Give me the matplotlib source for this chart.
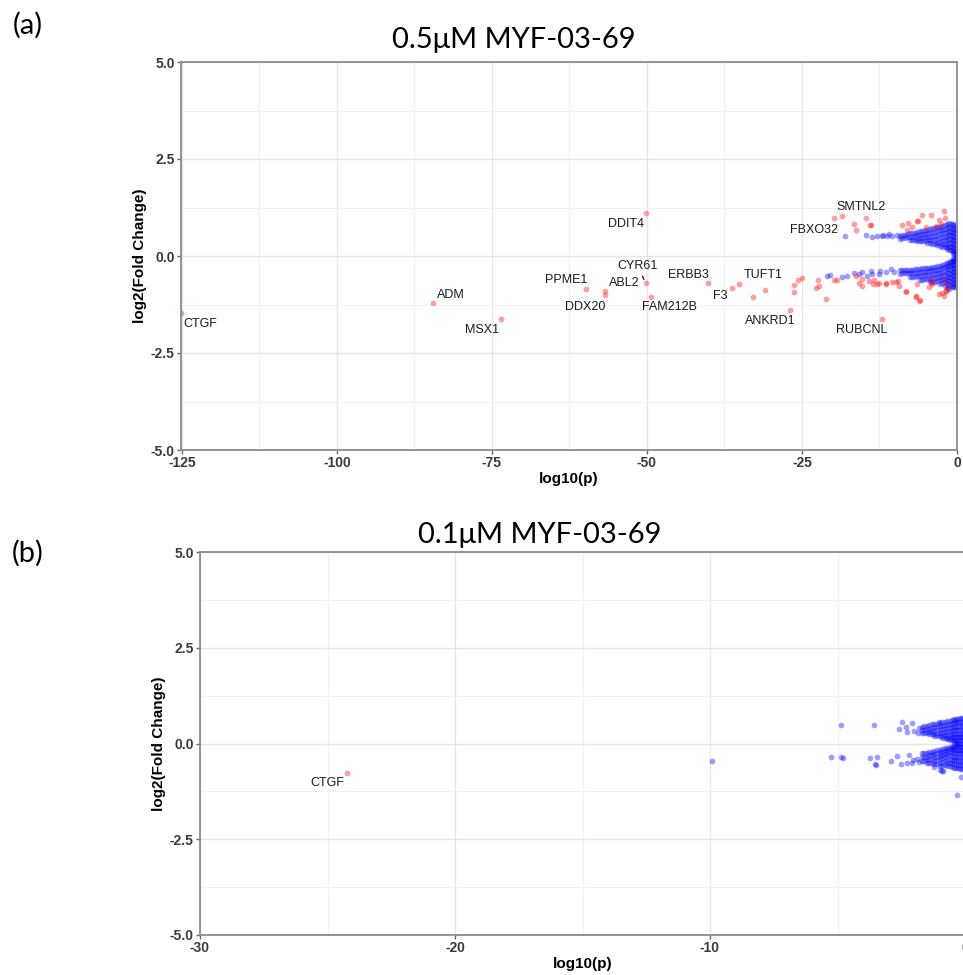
import matplotlib
matplotlib.use("Agg")
import matplotlib.pyplot as plt
from matplotlib.ticker import MultipleLocator

plt.rcParams["axes.unicode_minus"] = False

# ---- panel (a): 0.5uM MYF-03-69 ------------------------------------------
# significant hits (red), labelled genes
genes_a = ["CTGF", "ADM", "MSX1", "PPME1", "DDX20", "ABL2", "DDIT4", "CYR61",
           "FAM212B", "ERBB3", "F3", "TUFT1", "ANKRD1", "RUBCNL", "SMTNL2", "FBXO32"]
genes_a_p = [-125.2, -84.5, -73.5, -59.8, -56.8, -56.7, -50.2, -50.2,
             -49.4, -40.2, -36.3, -35.2, -26.9, -12.1, -18.5, -19.8]
genes_a_fc = [-1.47, -1.21, -1.62, -0.85, -1.0, -0.9, 1.1, -0.7,
              -1.06, -0.7, -0.83, -0.72, -1.39, -1.62, 1.03, 0.98]

# other significant hits (red, unlabelled)
red_a_p = [-32.9, -31.0, -26.3, -26.3, -25.6, -25.0, -22.7, -22.4, -22.3, -21.1,
           -19.8, -19.3, -16.6, -16.3, -14.7, -14.0, -13.9, -8.9, -8.1, -6.3,
           -5.6, -4.2, -2.9, -3.4, -2.1, -1.9, -7.3, -5.0, -2.6, -7.9, -6.5,
           -15.3, -14.2, -13.4, -12.9, -11.5, -10.5, -9.5, -8.2, -6.5, -6.6,
           -6.0, -4.2, -4.0, -2.4, -1.8, -1.5, -2.1, -4.5, -16.3, -15.8, -15.3,
           -13.5, -12.6, -11.5, -9.8, -9.4, -8.2, -6.6, -6.1, -2.9, -2.1, -1.8]
red_a_fc = [-1.06, -0.88, -0.75, -0.93, -0.62, -0.57, -0.83, -0.62, -0.77, -1.11,
            -0.62, -0.62, 0.82, 0.67, 0.98, 0.80, 0.80, 0.80, 0.67, 0.90,
            1.06, 1.06, 0.93, 0.77, 1.16, 0.98, 0.75, 0.75, 0.82, 0.85, 0.90,
            -0.59, -0.64, -0.62, -0.72, -0.72, -0.67, -0.64, -0.90, -0.72, -1.06,
            -1.13, -0.64, -0.72, -0.95, -0.90, -0.80, -0.62, -0.80, -0.52, -0.70, -0.77,
            -0.72, -0.70, -0.70, -0.67, -0.77, -0.93, -1.03, -1.16, -0.98, -1.03, -0.90]

# non-significant genes (blue), sparse tail
blue_a_p = [-18.1, -14.7, -13.7, -12.1, -11.3, -10.5, -9.7, -12.9, -11.9, -10.9,
            -21.0, -20.5, -18.5, -17.7, -16.6, -15.3, -14.5, -13.9, -12.6, -11.5,
            -10.6, -10.2, -15.8, -13.7, -12.4]
blue_a_fc = [0.52, 0.54, 0.49, 0.52, 0.52, 0.52, 0.54, 0.52, 0.55, 0.56,
             -0.52, -0.49, -0.54, -0.52, -0.44, -0.41, -0.52, -0.39, -0.46, -0.41,
             -0.34, -0.40, -0.46, -0.46, -0.38]

# non-significant genes (blue), dense cloud near p = 1, by column of log10(p)
dense_a_p = [-0.2, -0.7, -1.3, -2.0, -2.8, -3.6, -4.4, -5.2, -6.0, -6.8, -7.6, -8.4, -9.2,
             -0.45, -1.0, -1.65, -2.4, -3.2, -4.0, -4.8, -5.6, -6.4, -7.2, -8.0, -8.8]
dense_a_fc = [
    [0.78, 0.68, 0.58, 0.48, 0.38, 0.28, 0.18, 0.10, 0.04, 0.0, -0.04, -0.10, -0.18,
     -0.28, -0.38, -0.48, -0.58, -0.68, -0.78],
    [0.82, 0.72, 0.62, 0.52, 0.42, 0.32, 0.22, 0.14, 0.07, -0.07, -0.14, -0.22, -0.32,
     -0.42, -0.52, -0.62, -0.72, -0.80],
    [0.84, 0.74, 0.64, 0.54, 0.44, 0.34, 0.24, 0.16, -0.16, -0.24, -0.34, -0.44, -0.54,
     -0.64, -0.74, -0.84],
    [0.80, 0.70, 0.60, 0.50, 0.40, 0.30, 0.22, -0.20, -0.28, -0.38, -0.48, -0.58, -0.68, -0.78],
    [0.76, 0.66, 0.56, 0.46, 0.36, 0.27, -0.25, -0.33, -0.43, -0.53, -0.63, -0.73],
    [0.72, 0.62, 0.52, 0.42, 0.32, -0.28, -0.36, -0.46, -0.56, -0.66],
    [0.70, 0.60, 0.50, 0.41, 0.33, -0.30, -0.38, -0.48, -0.58, -0.68],
    [0.66, 0.57, 0.48, 0.39, -0.31, -0.40, -0.50, -0.60],
    [0.64, 0.55, 0.46, 0.38, -0.33, -0.42, -0.52, -0.62],
    [0.60, 0.51, 0.42, -0.34, -0.43, -0.53],
    [0.58, 0.49, 0.41, -0.35, -0.44, -0.54],
    [0.55, 0.47, -0.36, -0.45],
    [0.52, 0.45, -0.37, -0.46],
    [0.80, 0.70, 0.60, 0.50, 0.40, 0.30, 0.20, 0.12, 0.05, -0.05, -0.12, -0.20, -0.30,
     -0.40, -0.50, -0.60, -0.70, -0.80],
    [0.83, 0.73, 0.63, 0.53, 0.43, 0.33, 0.23, 0.15, -0.12, -0.19, -0.27, -0.37, -0.47,
     -0.57, -0.67, -0.77],
    [0.82, 0.72, 0.62, 0.52, 0.42, 0.32, 0.24, 0.19, -0.18, -0.25, -0.33, -0.43, -0.53,
     -0.63, -0.73, -0.82],
    [0.78, 0.68, 0.58, 0.48, 0.38, 0.30, 0.24, -0.23, -0.30, -0.40, -0.50, -0.60, -0.70],
    [0.74, 0.64, 0.54, 0.44, 0.34, 0.28, -0.27, -0.35, -0.45, -0.55, -0.65],
    [0.71, 0.61, 0.51, 0.41, 0.32, -0.29, -0.37, -0.47, -0.57, -0.67],
    [0.68, 0.58, 0.49, 0.40, 0.33, -0.31, -0.39, -0.49, -0.59],
    [0.65, 0.56, 0.47, 0.38, -0.32, -0.41, -0.51, -0.61],
    [0.62, 0.53, 0.44, 0.38, -0.34, -0.43, -0.52],
    [0.59, 0.50, 0.42, -0.35, -0.44, -0.53],
    [0.56, 0.48, -0.36, -0.45],
    [0.53, 0.46, -0.37, -0.45],
]

# ---- panel (b): 0.1uM MYF-03-69 ------------------------------------------
genes_b = ["CTGF"]
genes_b_p = [-24.24]
genes_b_fc = [-0.78]

blue_b_p = [-9.92, -4.86, -5.25, -4.86, -4.80, -3.57, -3.73, -3.53, -3.50, -3.45,
            -2.90, -2.67, -2.47, -2.27, -2.08, -2.51, -2.27, -2.08, -2.04, -1.84,
            -1.80, -1.80, -0.86, -0.31, -0.15, -1.02, -0.40, -2.6, -2.3, -2.0,
            -0.90, -1.2, -1.0, -1.9, -2.2]
blue_b_fc = [-0.46, 0.48, -0.35, -0.35, -0.37, 0.48, -0.38, -0.54, -0.56, -0.35,
             -0.46, -0.33, 0.56, 0.30, 0.54, -0.54, -0.50, -0.50, -0.44, 0.27,
             0.40, -0.48, -0.72, -1.34, -0.88, 0.56, 0.60, 0.38, 0.42, 0.33,
             -0.72, -0.62, -0.68, -0.40, -0.30]

dense_b_p = [-1.7, -1.5, -1.3, -1.1, -0.9, -0.7, -0.5, -0.35, -0.2, -0.05,
             -1.6, -1.4, -1.2, -1.0, -0.8, -0.6, -0.42, -0.28, -0.12]
dense_b_fc = [
    [0.44, 0.35, 0.27, -0.26, -0.35, -0.45],
    [0.46, 0.37, 0.28, -0.25, -0.34, -0.44, -0.52],
    [0.50, 0.41, 0.32, 0.24, -0.22, -0.31, -0.40, -0.50],
    [0.52, 0.43, 0.34, 0.26, 0.19, -0.18, -0.26, -0.35, -0.44, -0.54],
    [0.55, 0.46, 0.37, 0.28, 0.20, 0.15, -0.15, -0.22, -0.30, -0.39, -0.48, -0.58],
    [0.58, 0.49, 0.40, 0.31, 0.22, 0.15, 0.11, -0.11, -0.16, -0.24, -0.33, -0.42, -0.51, -0.60],
    [0.62, 0.52, 0.42, 0.33, 0.24, 0.16, 0.09, -0.08, -0.15, -0.23, -0.32, -0.42, -0.52, -0.62],
    [0.64, 0.54, 0.44, 0.34, 0.25, 0.16, 0.08, 0.04, -0.04, -0.08, -0.16, -0.25, -0.34,
     -0.44, -0.54, -0.64],
    [0.66, 0.56, 0.46, 0.36, 0.26, 0.17, 0.08, 0.0, -0.08, -0.17, -0.26, -0.36, -0.46,
     -0.56, -0.66],
    [0.66, 0.56, 0.46, 0.36, 0.26, 0.17, 0.08, 0.0, -0.08, -0.17, -0.26, -0.36, -0.46,
     -0.56, -0.66],
    [0.45, 0.36, 0.28, -0.26, -0.35, -0.46],
    [0.48, 0.39, 0.30, 0.24, -0.23, -0.30, -0.40, -0.50],
    [0.51, 0.42, 0.33, 0.25, 0.20, -0.19, -0.27, -0.36, -0.46, -0.54],
    [0.54, 0.45, 0.36, 0.27, 0.19, -0.17, -0.24, -0.32, -0.41, -0.50, -0.58],
    [0.57, 0.48, 0.39, 0.30, 0.21, 0.14, -0.13, -0.19, -0.27, -0.36, -0.45, -0.55],
    [0.60, 0.50, 0.41, 0.32, 0.23, 0.15, 0.10, -0.09, -0.14, -0.22, -0.31, -0.40, -0.50, -0.60],
    [0.63, 0.53, 0.43, 0.34, 0.25, 0.17, 0.10, 0.05, -0.05, -0.10, -0.17, -0.25, -0.34,
     -0.44, -0.54, -0.63],
    [0.65, 0.55, 0.45, 0.35, 0.25, 0.16, 0.08, 0.02, -0.02, -0.08, -0.16, -0.25, -0.35,
     -0.45, -0.55, -0.65],
    [0.66, 0.56, 0.46, 0.36, 0.26, 0.17, 0.08, 0.0, -0.08, -0.17, -0.26, -0.36, -0.46,
     -0.56, -0.66],
]

# label offsets in pixels (repel-style placement)
offs_a = {"CTGF": (20, -11), "ADM": (18, 8), "MSX1": (-19, -11), "PPME1": (-20, 9),
          "DDX20": (-20, -12), "ABL2": (19, 8), "DDIT4": (-20, -11), "CYR61": (-8, 17),
          "FAM212B": (19, -10), "ERBB3": (-19, 8), "F3": (-12, -8), "TUFT1": (24, 9),
          "ANKRD1": (-20, -11), "RUBCNL": (-20, -11), "SMTNL2": (19, 9), "FBXO32": (-20, -12)}
offs_b = {"CTGF": (-20, -10)}


def flatten(cols_x, cols_y):
    xs, ys = [], []
    for x, col in zip(cols_x, cols_y):
        xs += [x] * len(col)
        ys += col
    return xs, ys


BLUE = (0, 0, 1, 0.38)
RED = (1, 0, 0, 0.38)
MS = 17
LBL = "Liberation Sans"


def style_axes(ax, xlim, xmajor):
    ax.set_xlim(*xlim)
    ax.set_ylim(-5, 5)
    ax.xaxis.set_major_locator(MultipleLocator(xmajor))
    ax.xaxis.set_minor_locator(MultipleLocator(xmajor / 2))
    ax.yaxis.set_major_locator(MultipleLocator(2.5))
    ax.yaxis.set_minor_locator(MultipleLocator(1.25))
    ax.yaxis.set_major_formatter(matplotlib.ticker.FormatStrFormatter("%.1f"))
    ax.grid(which="major", color="#e6e6e6", linewidth=1.0)
    ax.grid(which="minor", color="#f2f2f2", linewidth=0.8)
    ax.set_axisbelow(True)
    for s in ax.spines.values():
        s.set_color("#8c8c8c")
        s.set_linewidth(1.3)
    ax.tick_params(which="major", length=3, width=1, color="#666666", pad=1.5,
                   labelcolor="#3a3a3a", labelsize=10)
    ax.tick_params(which="minor", length=0)
    for t in ax.get_xticklabels() + ax.get_yticklabels():
        t.set_fontweight("bold")
        t.set_family(LBL)
    ax.set_xlabel("log10(p)", fontsize=11, fontweight="bold", family=LBL, labelpad=1)
    ax.set_ylabel("log2(Fold Change)", fontsize=11, fontweight="bold", family=LBL, labelpad=3)


fig = plt.figure(figsize=(9.63, 9.75), dpi=100)

# panel (a)
ax1 = fig.add_axes([181 / 963, 1 - 450 / 975, 776 / 963, 388 / 975])
dx, dy = flatten(dense_a_p, dense_a_fc)
ax1.scatter(dx, dy, s=MS, color=BLUE, linewidths=0)
ax1.scatter(blue_a_p, blue_a_fc, s=MS, color=BLUE, linewidths=0)
ax1.scatter(red_a_p, red_a_fc, s=MS, color=RED, linewidths=0)
ax1.scatter(genes_a_p, genes_a_fc, s=MS, color=RED, linewidths=0)
for g, x, y in zip(genes_a, genes_a_p, genes_a_fc):
    arrow = dict(arrowstyle="-", color="#222222", lw=1, shrinkA=1, shrinkB=3) if g == "CYR61" else None
    ax1.annotate(g, (x, y), xytext=offs_a[g], textcoords="offset pixels",
                 ha="center", va="center", fontsize=9, family=LBL, color="#1a1a1a",
                 arrowprops=arrow)
style_axes(ax1, (-125.15, 0.0), 25)

# panel (b)
ax2 = fig.add_axes([200 / 963, 1 - 935 / 975, 765 / 963, 383 / 975])
dx, dy = flatten(dense_b_p, dense_b_fc)
ax2.scatter(dx, dy, s=MS, color=BLUE, linewidths=0)
ax2.scatter(blue_b_p, blue_b_fc, s=MS, color=BLUE, linewidths=0)
ax2.scatter(genes_b_p, genes_b_fc, s=MS, color=RED, linewidths=0)
for g, x, y in zip(genes_b, genes_b_p, genes_b_fc):
    ax2.annotate(g, (x, y), xytext=offs_b[g], textcoords="offset pixels",
                 ha="center", va="center", fontsize=9, family=LBL, color="#1a1a1a")
style_axes(ax2, (-30, 0), 10)

# titles and panel tags
TF = "Lato"
fig.text(514 / 963, 1 - 40 / 975, "0.5μM MYF-03-69", ha="center", va="center", fontsize=21, family=TF)
fig.text(540 / 963, 1 - 535 / 975, "0.1μM MYF-03-69", ha="center", va="center", fontsize=21, family=TF)
fig.text(28 / 963, 1 - 25 / 975, "(a)", ha="center", va="center", fontsize=21, family=TF)
fig.text(28 / 963, 1 - 553 / 975, "(b)", ha="center", va="center", fontsize=21, family=TF)

fig.savefig("out.png", dpi=100)
